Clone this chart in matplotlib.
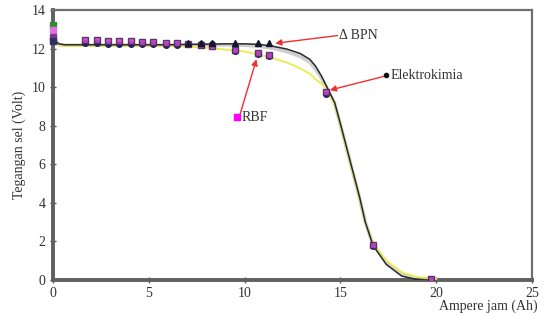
import matplotlib
matplotlib.use("Agg")
import matplotlib.pyplot as plt

# ── measured points ───────────────────────────────────────────────────────────
ah_points = [1.67, 2.29, 2.86, 3.44, 4.06, 4.64, 5.21, 5.89, 6.46, 7.03,
             7.7, 8.28, 9.48, 10.68, 11.25, 14.27, 16.72, 19.72]
rbf_volt = [12.45, 12.45, 12.4, 12.4, 12.4, 12.35, 12.35, 12.3, 12.3, 12.25,
            12.2, 12.15, 11.95, 11.75, 11.65, 9.75, 1.8, 0.07]
elektro_volt = [12.3, 12.3, 12.25, 12.25, 12.25, 12.22, 12.22, 12.2, 12.2, 12.25,
                12.25, 12.22, 11.9, 11.7, 11.6, 9.65, 1.75, 0.05]
bpn_ah = [7.03, 7.7, 8.28, 9.48, 10.68, 11.25]
bpn_volt = [12.3, 12.3, 12.3, 12.3, 12.3, 12.3]

start_ah = [0.0, 0.0, 0.0, 0.0]
start_volt = [13.25, 12.95, 12.6, 12.4]
start_colors = ["#2e8b2e", "#e070e0", "#7a3a8a", "#303060"]

# ── model curves ──────────────────────────────────────────────────────────────
curve_ah = [0, 0.3, 0.6, 2, 4, 6, 7, 8, 9, 10, 10.8, 11.5, 12.2, 12.9, 13.4, 13.7,
            14.0, 14.3, 14.7, 15.0, 15.5, 16.0, 16.3, 16.7, 17.4, 18.2, 19.0, 20.0]
black_volt = [12.5, 12.25, 12.2, 12.2, 12.2, 12.2, 12.22, 12.23, 12.25, 12.25,
              12.22, 12.12, 11.98, 11.75, 11.45, 11.1, 10.6, 10.0, 9.2, 8.1, 6.2,
              4.3, 3.0, 1.8, 0.8, 0.2, 0.02, -0.05]
yellow_volt = [12.6, 12.2, 12.15, 12.15, 12.15, 12.15, 12.1, 12.05, 11.95, 11.85,
               11.68, 11.5, 11.28, 10.98, 10.7, 10.42, 10.2, 9.9, 9.1, 8.0, 6.1,
               4.2, 3.0, 1.9, 1.0, 0.4, 0.15, 0.05]
gray_volt = [12.55, 12.22, 12.18, 12.18, 12.18, 12.18, 12.18, 12.2, 12.2, 12.18,
             12.12, 12.02, 11.85, 11.6, 11.3, 10.95, 10.5, 9.95, 9.15, 8.05, 6.15,
             4.25, 3.0, 1.85, 0.9, 0.3, 0.08, 0.0]

x_ticks = [0, 5, 10, 15, 20, 25]
y_ticks = [0, 2, 4, 6, 8, 10, 12, 14]

# annotation: (text, text xy, arrow tip xy)
labels = [
    ("\u0394 BPN", (14.95, 12.68), (11.6, 12.28)),
    ("Elektrokimia", (17.6, 10.62), (14.45, 9.85)),
    ("RBF", (9.82, 8.45), (10.62, 11.45)),
]
label_dots = [((17.36, 10.62), "o", "#111111", 3), ((9.6, 8.45), "s", "#ff00ff", 5)]

plt.rcParams["font.family"] = ["Liberation Serif", "DejaVu Serif"]

fig = plt.figure(figsize=(5.45, 3.16), dpi=100)
ax = fig.add_axes([0.0972, 0.114, 0.879, 0.854])

ax.plot(curve_ah, gray_volt, color="#cfcfcf", lw=2.6, zorder=2)
ax.plot(curve_ah, yellow_volt, color="#ecec55", lw=1.4, zorder=3)
ax.plot(curve_ah, black_volt, color="#2a2a2a", lw=1.1, zorder=4)

ax.plot(ah_points, elektro_volt, ls="none", marker="o", ms=4, color="#20205a",
        zorder=5)
ax.plot(ah_points, rbf_volt, ls="none", marker="s", ms=5, mfc="#c848c8",
        mec="#4a2a60", mew=1.0, alpha=0.9, zorder=6)
ax.plot(bpn_ah, bpn_volt, ls="none", marker="^", ms=4.5, color="#151530", zorder=7)
for x, y, c in zip(start_ah, start_volt, start_colors):
    ax.plot([x], [y], ls="none", marker="s", ms=4.5, color=c, zorder=6, clip_on=False)

for text, txy, tip in labels:
    ax.annotate("", xy=tip, xytext=(txy[0] - 0.1, txy[1]),
                arrowprops=dict(arrowstyle="-|>", color="#f03030", lw=1.0,
                                mutation_scale=9, shrinkA=0, shrinkB=0))
    ax.text(txy[0], txy[1], text, fontsize=10, color="#333333",
            ha="left", va="center")
for xy, m, c, s in label_dots:
    ax.plot([xy[0]], [xy[1]], ls="none", marker=m, ms=s, color=c, zorder=7)

ax.set_xlim(0, 25)
ax.set_ylim(0, 14)
ax.set_xticks(x_ticks)
ax.set_yticks(y_ticks)
ax.tick_params(direction="inout", length=4, width=1, colors="#555555",
               labelsize=10, labelcolor="#333333")
ax.tick_params(axis="x", pad=3)

for side in ["left", "bottom"]:
    ax.spines[side].set_linewidth(2.8)
    ax.spines[side].set_color("#606060")
for side in ["top", "right"]:
    ax.spines[side].set_linewidth(1.6)
    ax.spines[side].set_color("#707070")

ax.set_ylabel("Tegangan sel (Volt)", fontsize=10, color="#333333", labelpad=4)
fig.text(0.986, 0.03, "Ampere jam (Ah)", fontsize=10, color="#333333",
         ha="right", va="center")

fig.savefig("out.png", dpi=100)
